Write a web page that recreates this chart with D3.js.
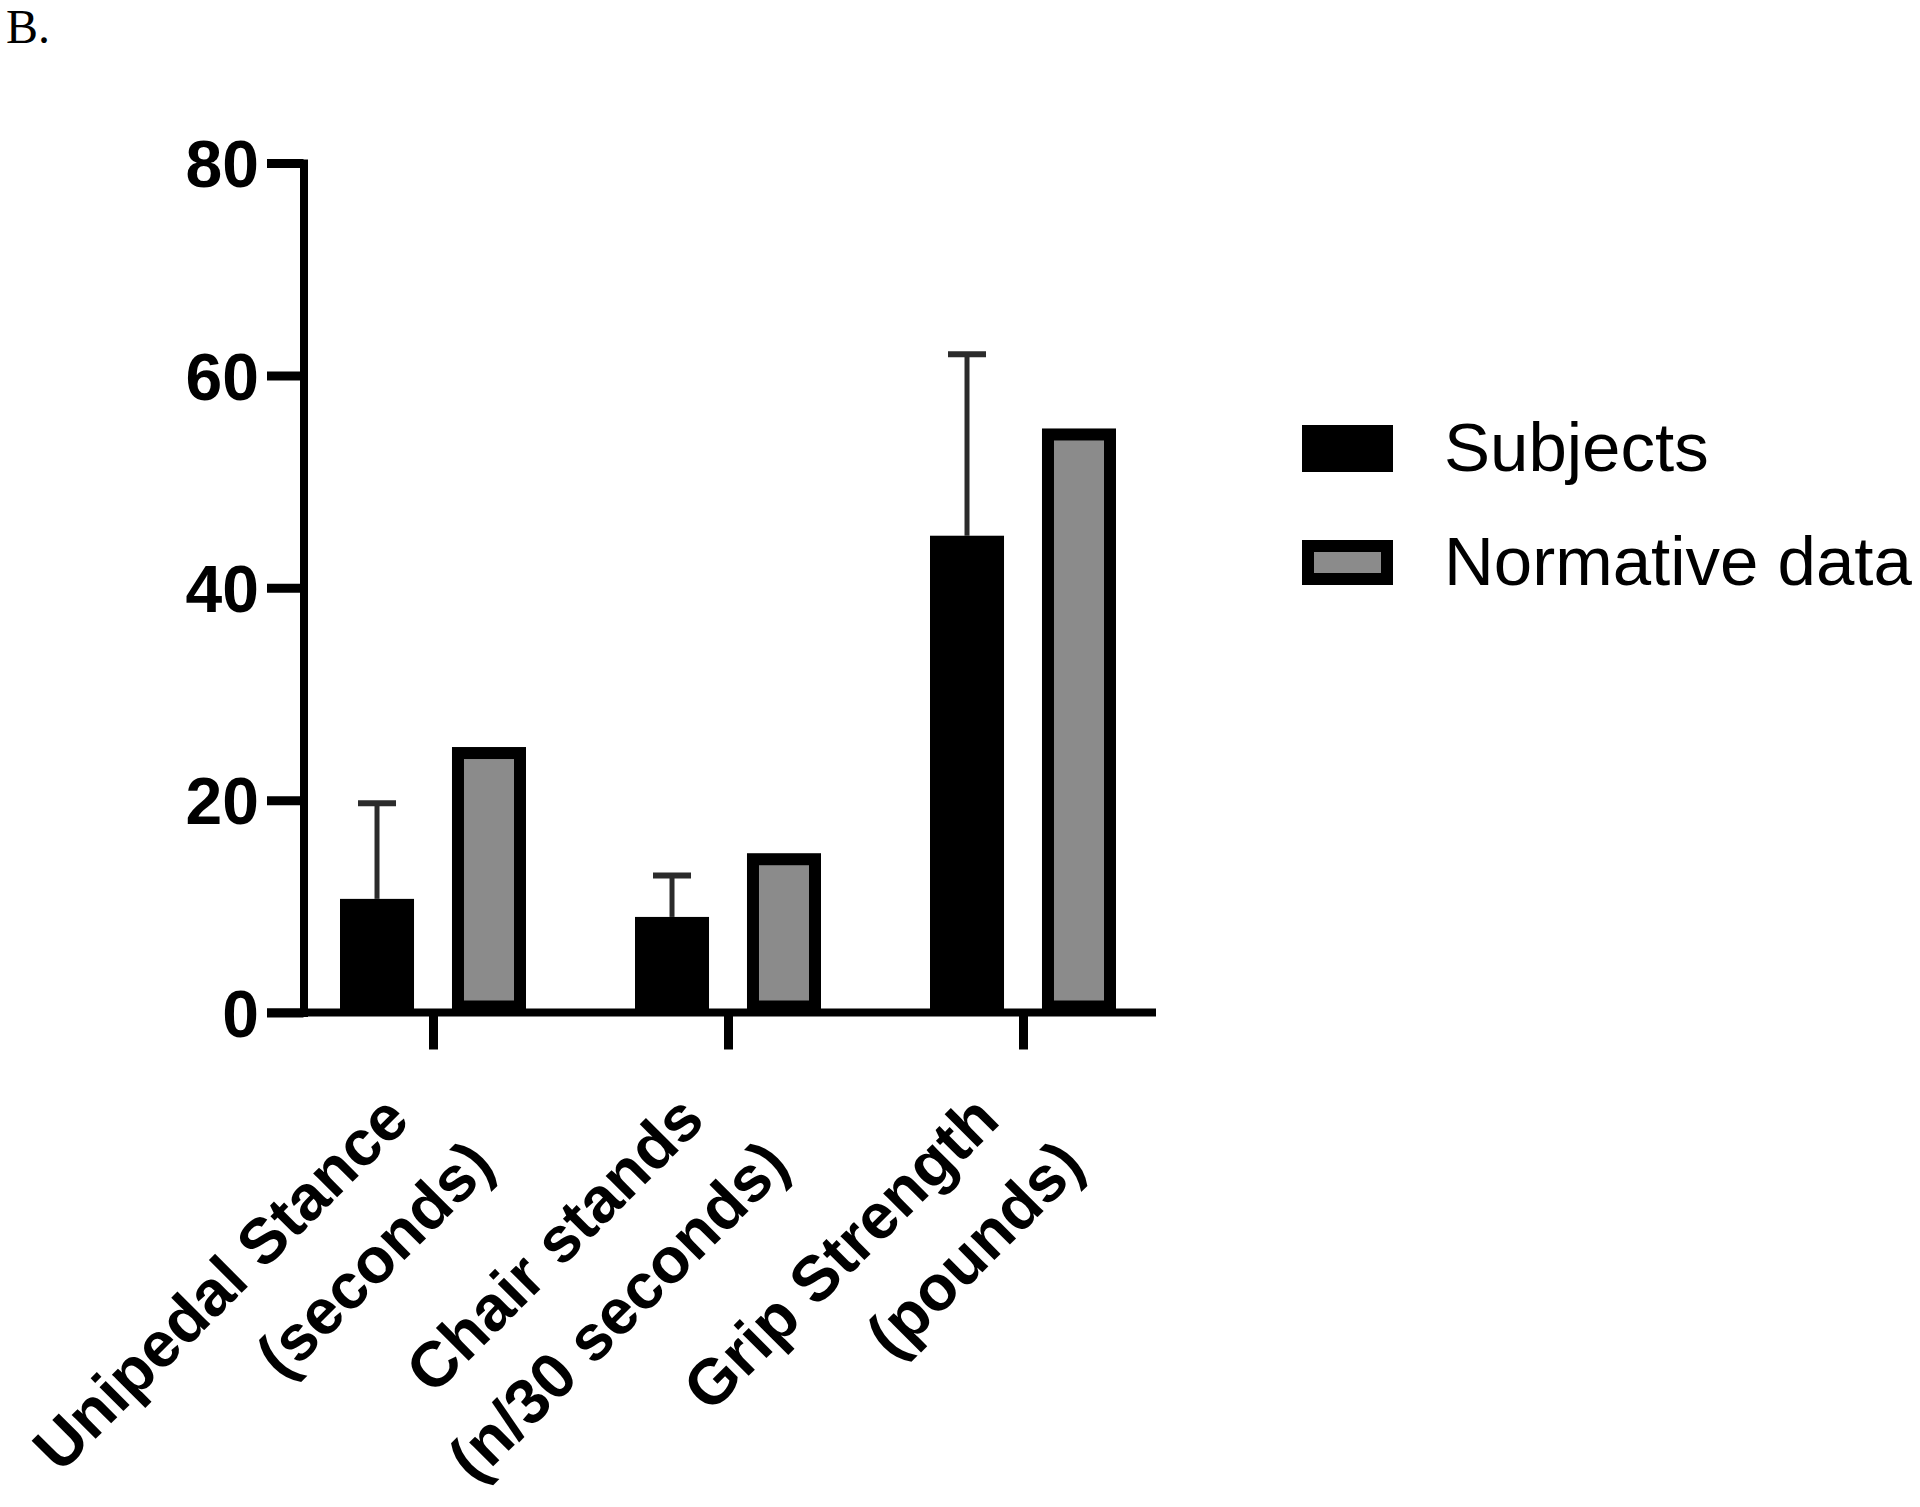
<!DOCTYPE html>
<html>
<head>
<meta charset="utf-8">
<script src="https://cdn.jsdelivr.net/npm/d3@7"></script>
<style>
  html, body { margin: 0; padding: 0; background: #ffffff; }
  svg { display: block; }
</style>
</head>
<body>
<svg id="chart" width="1920" height="1507"></svg>
<script>
// ---------- data ----------
const categories = ["Unipedal Stance (seconds)", "Chair stands (n/30 seconds)", "Grip Strength (pounds)"];
const labelLine1 = ["Unipedal Stance", "Chair stands", "Grip Strength"];
const labelLine2 = ["(seconds)", "(n/30 seconds)", "(pounds)"];
const seriesNames = ["Subjects", "Normative data"];
const subjectsMean = [10.7, 9.0, 44.9];
const subjectsSD = [9.0, 3.9, 17.1];
const normativeValues = [25, 15, 55];
const yTickValues = [0, 20, 40, 60, 80];
const panelLabel = "B.";

// ---------- layout ----------
const svg = d3.select("#chart");
const axisX = 303.5;      // y-axis line position
const axisY = 1012.5;     // x-axis line position
const topY = 163;
const xLeft = 267, xRight = 1156;
const gray = "#8b8b8b";

const y = d3.scaleLinear().domain([0, 80]).range([axisY, topY]);
const x = d3.scalePoint().domain(categories).range([433, 1023]);
const xSub = d3.scaleBand().domain(seriesNames).range([-93, 93]).paddingInner(0.339);

// panel label
svg.append("text")
  .attr("x", 6).attr("y", 43)
  .attr("font-family", "'Liberation Serif', 'Times New Roman', serif")
  .attr("font-size", 48)
  .text(panelLabel);

// ---------- bars ----------
const gBars = svg.append("g");
const rows = categories.map((c, i) => ({ c, i, s: subjectsMean[i], sd: subjectsSD[i], n: normativeValues[i] }));

// Subjects bars (solid black)
gBars.selectAll("rect.subj").data(rows).join("rect")
  .attr("class", "subj")
  .attr("x", d => x(d.c) + xSub("Subjects"))
  .attr("width", xSub.bandwidth())
  .attr("y", d => y(d.s))
  .attr("height", d => y(0) - y(d.s))
  .attr("fill", "#000");

// Normative bars (gray with thick black border drawn inside)
const bw = 12;
gBars.selectAll("rect.norm").data(rows).join("rect")
  .attr("class", "norm")
  .attr("x", d => x(d.c) + xSub("Normative data") + bw / 2)
  .attr("width", xSub.bandwidth() - bw)
  .attr("y", d => y(d.n) + bw / 2)
  .attr("height", d => y(0) - y(d.n) - bw)
  .attr("fill", gray)
  .attr("stroke", "#000")
  .attr("stroke-width", bw);

// error bars (upper only)
const gErr = svg.append("g").attr("stroke", "#2b2b2b");
gErr.selectAll("line.stem").data(rows).join("line")
  .attr("x1", d => x(d.c) + xSub("Subjects") + xSub.bandwidth() / 2)
  .attr("x2", d => x(d.c) + xSub("Subjects") + xSub.bandwidth() / 2)
  .attr("y1", d => y(d.s))
  .attr("y2", d => y(d.s + d.sd))
  .attr("stroke-width", 5);
gErr.selectAll("line.cap").data(rows).join("line")
  .attr("x1", d => x(d.c) + xSub("Subjects") + xSub.bandwidth() / 2 - 19)
  .attr("x2", d => x(d.c) + xSub("Subjects") + xSub.bandwidth() / 2 + 19)
  .attr("y1", d => y(d.s + d.sd))
  .attr("y2", d => y(d.s + d.sd))
  .attr("stroke-width", 6);

// ---------- axes ----------
const yAxis = d3.axisLeft(y).tickValues(yTickValues).tickSize(axisX - xLeft).tickSizeOuter(0).tickPadding(8);
const gy = svg.append("g").attr("transform", `translate(${axisX},0)`).call(yAxis);
gy.select(".domain").attr("stroke", "#000").attr("stroke-width", 8).attr("stroke-linecap", "square");
gy.selectAll(".tick line").attr("stroke", "#000").attr("stroke-width", 9);
gy.selectAll(".tick text")
  .attr("fill", "#000")
  .attr("font-family", "'Liberation Sans', Arial, sans-serif")
  .attr("font-weight", "bold")
  .attr("font-size", 66)
  .attr("dy", "0.36em");

// x axis baseline
svg.append("line")
  .attr("x1", xLeft).attr("x2", xRight)
  .attr("y1", axisY).attr("y2", axisY)
  .attr("stroke", "#000").attr("stroke-width", 8);

const xAxis = d3.axisBottom(x).tickSize(37).tickFormat("");
const gx = svg.append("g").attr("transform", `translate(0,${axisY})`).call(xAxis);
gx.select(".domain").remove();
gx.selectAll(".tick line").attr("stroke", "#000").attr("stroke-width", 9);

// rotated two-line category labels
const gLab = svg.append("g")
  .attr("font-family", "'Liberation Sans', Arial, sans-serif")
  .attr("font-weight", "bold")
  .attr("font-size", 64)
  .attr("fill", "#000");
categories.forEach((c, i) => {
  const t = gLab.append("text")
    .attr("transform", `translate(${x(c) - 21},${axisY + 110}) rotate(-45)`)
    .attr("text-anchor", "end");
  t.append("tspan").attr("x", 0).attr("dy", 0).text(labelLine1[i]);
  t.append("tspan").attr("x", 28).attr("dy", 92).text(labelLine2[i]);
});

// ---------- legend ----------
const legend = svg.append("g");
const legY = [425, 540];
legend.append("rect")
  .attr("x", 1302).attr("y", legY[0]).attr("width", 91).attr("height", 47)
  .attr("fill", "#000");
legend.append("rect")
  .attr("x", 1302 + 6).attr("y", legY[1] + 6).attr("width", 91 - 12).attr("height", 45 - 12)
  .attr("fill", gray).attr("stroke", "#000").attr("stroke-width", 12);
seriesNames.forEach((s, i) => {
  legend.append("text")
    .attr("x", 1444).attr("y", [470.5, 585][i])
    .attr("font-family", "'Liberation Sans', Arial, sans-serif")
    .attr("font-size", 69)
    .attr("fill", "#000")
    .text(s);
});
</script>
</body>
</html>
